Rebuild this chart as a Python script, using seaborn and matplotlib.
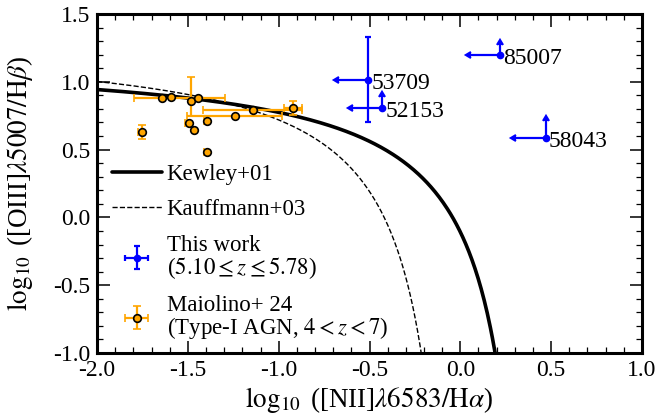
import numpy as np
import matplotlib
matplotlib.use("Agg")
import matplotlib.pyplot as plt
import seaborn as sns
from matplotlib.ticker import MultipleLocator, FormatStrFormatter

# ---- Maiolino+24 type-I AGN (4 < z < 7) ----
mai_x = [-1.754, -1.642, -1.593, -1.483, -1.444, -1.242, -1.144, -0.923,
         -1.495, -1.465, -1.393, -1.393]
mai_y = [0.628, 0.881, 0.890, 0.858, 0.881, 0.750, 0.791, 0.807,
         0.694, 0.647, 0.709, 0.480]
mai_xerr_lo = [0.02, 0.0, 0.0, 0.0, 0.35, 0.26, 0.27, 0.05, 0.02, 0.0, 0.02, 0.02]
mai_xerr_hi = [0.0, 0.0, 0.0, 0.0, 0.15, 0.26, 0.27, 0.05, 0.0, 0.0, 0.0, 0.0]
mai_yerr_lo = [0.05, 0.0, 0.0, 0.108, 0.0, 0.0, 0.0, 0.05, 0.0, 0.0, 0.0, 0.0]
mai_yerr_hi = [0.05, 0.0, 0.0, 0.175, 0.0, 0.0, 0.0, 0.05, 0.0, 0.0, 0.0, 0.0]

# ---- This work (5.10 <= z <= 5.78) ----
our_ids = ["53709", "52153", "85007", "58043"]
our_x = [-0.507, -0.430, 0.218, 0.469]
our_y = [1.016, 0.809, 1.200, 0.588]
our_xerr = [0.16, 0.16, 0.16, 0.16]          # [NII] upper limits
our_yerr = [0.315, 0.076, 0.070, 0.125]
our_ylolim = [False, True, True, True]       # [OIII]/Hb lower limits

# ---- demarcation lines: y = a / (x - b) + c ----
kewley_coef = (0.61, 0.47, 1.19)
kauffmann_coef = (0.61, 0.05, 1.30)
kewley_xmax = 0.25
kauffmann_xmax = -0.19

sns.set_theme(style="ticks")
plt.rcParams.update({
    "font.family": ["Liberation Serif", "DejaVu Serif"],
    "mathtext.fontset": "stix",
    "axes.edgecolor": "black",
    "axes.labelcolor": "black",
    "text.color": "black",
    "xtick.color": "black",
    "ytick.color": "black",
    "xtick.direction": "in",
    "ytick.direction": "in",
    "xtick.top": True,
    "ytick.right": True,
    "xtick.major.size": 9,
    "ytick.major.size": 9,
    "xtick.minor.size": 4.5,
    "ytick.minor.size": 4.5,
    "xtick.major.width": 1.1,
    "ytick.major.width": 1.1,
    "xtick.minor.width": 0.9,
    "ytick.minor.width": 0.9,
    "axes.linewidth": 2.2,
})

fig = plt.figure(figsize=(6.59, 4.16), dpi=100)
ax = fig.add_axes([0.1472, 0.1514, 0.827, 0.8149])

def demarcation(coef, xmax):
    a, b, c = coef
    xs = np.linspace(-2.0, xmax, 400)
    return xs, a / (xs - b) + c

kx, ky = demarcation(kewley_coef, kewley_xmax)
fx, fy = demarcation(kauffmann_coef, kauffmann_xmax)
sns.lineplot(x=kx, y=ky, ax=ax, color="black", lw=2.6, sort=False,
             estimator=None, label="Kewley+01")
sns.lineplot(x=fx, y=fy, ax=ax, color="black", lw=1.0, ls="--", sort=False,
             estimator=None, label="Kauffmann+03")
kew_line, kau_line = ax.get_lines()[:2]

ours_label = "This work\n($5.10 \\leq z \\leq 5.78$)"
mai_label = "Maiolino+ 24\n(Type-I AGN, $4 < z < 7$)"

ours = ax.errorbar(our_x, our_y, xerr=our_xerr, yerr=our_yerr,
                   xuplims=True, lolims=our_ylolim,
                   fmt="o", ms=4.5, color="blue", ecolor="blue",
                   elinewidth=1.6, capsize=2.3, capthick=1.6, zorder=4,
                   label=ours_label)

mai = ax.errorbar(mai_x, mai_y,
                  xerr=[mai_xerr_lo, mai_xerr_hi],
                  yerr=[mai_yerr_lo, mai_yerr_hi],
                  fmt="o", ms=5.5, mfc="orange", mec="black", mew=1.2,
                  ecolor="orange", elinewidth=1.6, capsize=3, capthick=1.6,
                  zorder=3, label=mai_label)

for name, xv, yv in zip(our_ids, our_x, our_y):
    ax.annotate(name, (xv, yv), xytext=(2.5, -2.5), textcoords="offset points",
                ha="left", va="center", fontsize=17)

ax.set_xlim(-2.0, 1.0)
ax.set_ylim(-1.0, 1.5)
ax.xaxis.set_major_locator(MultipleLocator(0.5))
ax.yaxis.set_major_locator(MultipleLocator(0.5))
ax.xaxis.set_minor_locator(MultipleLocator(0.1))
ax.yaxis.set_minor_locator(MultipleLocator(0.1))
ax.tick_params(which="both", labelsize=17, pad=5)
ax.xaxis.set_major_formatter(FormatStrFormatter("%.1f"))
ax.yaxis.set_major_formatter(FormatStrFormatter("%.1f"))

ax.set_xlabel(r"$\log_{10}$ ([NII]$\lambda6583/\mathrm{H}\alpha$)", fontsize=19.5, labelpad=3)
ax.set_ylabel(r"$\log_{10}$ ([OIII]$\lambda5007/\mathrm{H}\beta$)", fontsize=19.5)
ax.yaxis.set_label_coords(-0.113, 0.5)

leg = ax.legend([kew_line, kau_line, ours, mai],
                ["Kewley+01", "Kauffmann+03", ours_label, mai_label],
                loc="upper left", bbox_to_anchor=(0.027, 0.557),
                frameon=False, fontsize=16.5, borderpad=0, borderaxespad=0,
                handlelength=2.2, handletextpad=0.2, labelspacing=0.62)
for t in leg.get_texts():
    t.set_linespacing(0.95)

fig.savefig("out.png", dpi=100)
